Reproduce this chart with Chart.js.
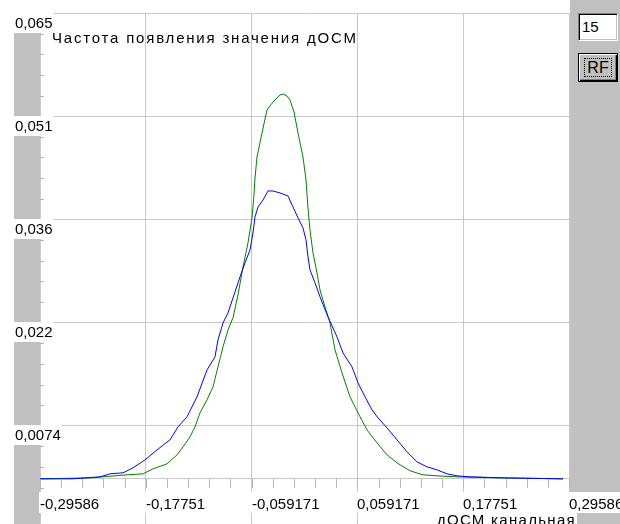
<!DOCTYPE html>
<html>
<head>
<meta charset="utf-8">
<script src="https://cdn.jsdelivr.net/npm/chart.js@4.4.1/dist/chart.umd.min.js"></script>
<style>
    html, body { margin: 0; padding: 0; background: #fff; overflow: hidden; }
    #wrap { position: relative; width: 620px; height: 524px; }
    #chart { position: absolute; left: 0; top: 0; }
    .edit {
        position: absolute; left: 578px; top: 13px; width: 35px; height: 26px;
        background: #fff;
        border-top: 1px solid #808080; border-left: 1px solid #808080;
        border-right: 1px solid #fff; border-bottom: 1px solid #fff;
        box-shadow: inset 1px 1px 0 #000, inset -1px -1px 0 #c0c0c0;
        font: 15px "Liberation Sans", Arial, sans-serif; line-height: 26px;
        padding-left: 3px; color: #000;
    }
    .btn {
        position: absolute; left: 578px; top: 53px; width: 38px; height: 27px;
        background: #c0c0c0; border: 1px solid #000;
        box-shadow: inset 1px 1px 0 #fff, inset -1px -1px 0 #000, inset -2px -2px 0 #808080;
        font: 16px "Liberation Sans", Arial, sans-serif; color: #000;
        text-align: center; line-height: 27px;
    }
    .btn span { border: 1px dotted #000; padding: 0 2px; }
</style>
</head>
<body>
<div id="wrap">
    <canvas id="chart" width="620" height="524"></canvas>
    <div class="edit">15</div>
    <div class="btn"><span>RF</span></div>
</div>
<script>
// === DATA ===
const blueX = [-0.29586, -0.25896, -0.22875, -0.21757, -0.20303, -0.19184, -0.17842, -0.16499, -0.15045, -0.14150,
    -0.13144, -0.12025, -0.10906, -0.10011, -0.09676, -0.09117, -0.08557, -0.07998, -0.07215, -0.06656,
    -0.06096, -0.05761, -0.05537, -0.05201, -0.04642, -0.04083, -0.03524, -0.02741, -0.01846, -0.01286,
    -0.00727, -0.00168, 0.00168, 0.00392, 0.00615, 0.01175, 0.01734, 0.02629, 0.03635, 0.04307,
    0.05313, 0.05985, 0.06768, 0.07551, 0.08222, 0.09228, 0.10347, 0.11466, 0.12584, 0.13703,
    0.14821, 0.15940, 0.17059, 0.18513, 0.22092, 0.28916];
const blueY = [0, 0, 0.00028, 0.00070, 0.00084, 0.00153, 0.00265, 0.00404, 0.00544, 0.00725,
    0.00865, 0.01144, 0.01520, 0.01702, 0.01939, 0.02176, 0.02315, 0.02525, 0.02818, 0.03013,
    0.03194, 0.03431, 0.03654, 0.03794, 0.03891, 0.04017, 0.04017, 0.03989, 0.03947, 0.03794,
    0.03640, 0.03501, 0.03334, 0.03096, 0.02915, 0.02734, 0.02539, 0.02260, 0.01981, 0.01757,
    0.01562, 0.01339, 0.01144, 0.00962, 0.00851, 0.00711, 0.00544, 0.00377, 0.00237, 0.00167,
    0.00126, 0.00070, 0.00042, 0.00028, 0.00014, 0];

const greenX = [-0.29586, -0.23994, -0.19855, -0.18065, -0.16947, -0.15381, -0.14262, -0.13591, -0.12808, -0.12249,
    -0.11689, -0.10906, -0.10235, -0.09676, -0.09117, -0.08557, -0.07998, -0.07439, -0.06879, -0.06320,
    -0.05873, -0.05649, -0.05537, -0.05313, -0.04754, -0.04195, -0.03524, -0.02741, -0.02405, -0.01958,
    -0.01622, -0.01175, -0.00727, -0.00168, 0.00168, 0.00392, 0.00615, 0.00951, 0.01398, 0.01734,
    0.02293, 0.02852, 0.03412, 0.04195, 0.05090, 0.05985, 0.06991, 0.08110, 0.09228, 0.10347,
    0.11801, 0.13255, 0.14821, 0.17059, 0.21869, 0.28916];
const greenY = [0, 0.00014, 0.00056, 0.00070, 0.00139, 0.00209, 0.00335, 0.00446, 0.00586, 0.00725,
    0.00921, 0.01102, 0.01283, 0.01562, 0.01841, 0.02078, 0.02246, 0.02566, 0.02957, 0.03292,
    0.03640, 0.03961, 0.04198, 0.04491, 0.04826, 0.05147, 0.05258, 0.05356, 0.05370, 0.05342,
    0.05286, 0.05119, 0.04826, 0.04491, 0.04170, 0.03780, 0.03473, 0.03152, 0.02873, 0.02636,
    0.02399, 0.02176, 0.01799, 0.01479, 0.01144, 0.00921, 0.00683, 0.00502, 0.00335, 0.00223,
    0.00112, 0.00056, 0.00042, 0.00028, 0.00014, 0];

const xTickValues = [-0.29586, -0.177516, -0.059172, 0.059172, 0.177516, 0.29586];
const xTickLabels = ['-0,29586', '-0,17751', '-0,059171', '0,059171', '0,17751', '0,29586'];
const yTickValues = [0.0074, 0.0218, 0.0362, 0.0506, 0.065];
const yTickLabels = ['0,0074', '0,022', '0,036', '0,051', '0,065'];

const chartTitle = 'Частота появления значения дОСМ';
const xTitle = 'дОСМ канальная';

// === STYLE ===
const FONT = '15px "Liberation Sans", Arial, sans-serif';
const panelGray = '#c0c0c0';
const gridGray = '#c8c8c8';

function toPoints(xs, ys) {
    return xs.map((x, i) => ({ x: x, y: ys[i] }));
}

// draws the old-style axis bands, minor ticks and white label boxes
const decorPlugin = {
    id: 'decor',
    afterDraw(chart) {
        const ctx = chart.ctx;
        const area = chart.chartArea;
        const xs = chart.scales.x;
        const ys = chart.scales.y;
        const y0 = Math.round(ys.getPixelForValue(0));
        ctx.save();

        // side bands
        ctx.fillStyle = panelGray;
        ctx.fillRect(14, area.top, area.left - 14, 524 - area.top);
        ctx.fillRect(area.right + 1, 0, 620 - area.right - 1, 524);

        // minor ticks
        ctx.strokeStyle = '#b4b4b4';
        ctx.lineWidth = 1;
        ctx.beginPath();
        const yStep = (yTickValues[1] - yTickValues[0]) / 5;
        for (let v = yTickValues[yTickValues.length - 1]; v > ys.min; v -= yStep) {
            const py = Math.round(ys.getPixelForValue(v)) + 0.5;
            ctx.moveTo(area.left, py);
            ctx.lineTo(area.left + 4, py);
        }
        const xStep = (xTickValues[1] - xTickValues[0]) / 5;
        for (let v = xTickValues[0]; v <= xs.max + 1e-9; v += xStep) {
            const px = Math.round(xs.getPixelForValue(v)) + 0.5;
            ctx.moveTo(px, y0);
            ctx.lineTo(px, y0 + 9);
        }
        ctx.stroke();

        ctx.font = FONT;
        ctx.textBaseline = 'alphabetic';

        // y labels
        yTickValues.forEach((v, i) => {
            const py = Math.floor(ys.getPixelForValue(v));
            const w = ctx.measureText(yTickLabels[i]).width;
            ctx.fillStyle = '#fff';
            ctx.fillRect(14, py, w + 2, 20);
            ctx.fillStyle = '#000';
            ctx.fillText(yTickLabels[i], 15, py + 15);
        });

        // x labels
        xTickValues.forEach((v, i) => {
            const px = Math.round(xs.getPixelForValue(v));
            const w = ctx.measureText(xTickLabels[i]).width;
            ctx.fillStyle = '#fff';
            ctx.fillRect(px - 1, y0 + 13, w + 3, 21);
            ctx.fillStyle = '#000';
            ctx.fillText(xTickLabels[i], px, y0 + 30);
        });

        // axis title bottom right (wider spacing like the old bitmap font)
        ctx.letterSpacing = '1.3px';
        const tw = ctx.measureText(xTitle).width;
        ctx.fillStyle = '#fff';
        ctx.fillRect(577 - tw - 2, 513, tw + 2, 11);
        ctx.fillStyle = '#000';
        ctx.fillText(xTitle, 577 - tw - 1, 525);

        // chart caption
        ctx.letterSpacing = '1.8px';
        ctx.fillText(chartTitle, 52, 43);
        ctx.restore();
    }
};

document.addEventListener('DOMContentLoaded', function () {
    const ctx = document.getElementById('chart');

    new Chart(ctx, {
        type: 'line',
        data: {
            datasets: [
                {
                    label: 'blue',
                    data: toPoints(blueX, blueY),
                    borderColor: '#0000ff',
                    borderWidth: 1,
                    pointRadius: 0,
                    tension: 0,
                    fill: false
                },
                {
                    label: 'green',
                    data: toPoints(greenX, greenY),
                    borderColor: '#008000',
                    borderWidth: 1,
                    pointRadius: 0,
                    tension: 0,
                    fill: false
                }
            ]
        },
        options: {
            responsive: false,
            animation: false,
            devicePixelRatio: 1,
            layout: { padding: { left: 40, right: 51, top: 13, bottom: 0 } },
            plugins: {
                legend: { display: false },
                tooltip: { enabled: false }
            },
            scales: {
                x: {
                    type: 'linear',
                    min: xTickValues[0],
                    max: xTickValues[xTickValues.length - 1],
                    afterBuildTicks: axis => { axis.ticks = xTickValues.map(v => ({ value: v })); },
                    ticks: { display: false },
                    border: { display: false },
                    grid: { color: gridGray, drawTicks: false }
                },
                y: {
                    type: 'linear',
                    min: -0.0063,
                    max: 0.065,
                    afterBuildTicks: axis => { axis.ticks = [0].concat(yTickValues).map(v => ({ value: v })); },
                    ticks: { display: false },
                    border: { display: false },
                    grid: { color: gridGray, drawTicks: false }
                }
            }
        },
        plugins: [decorPlugin]
    });
});
</script>
</body>
</html>
